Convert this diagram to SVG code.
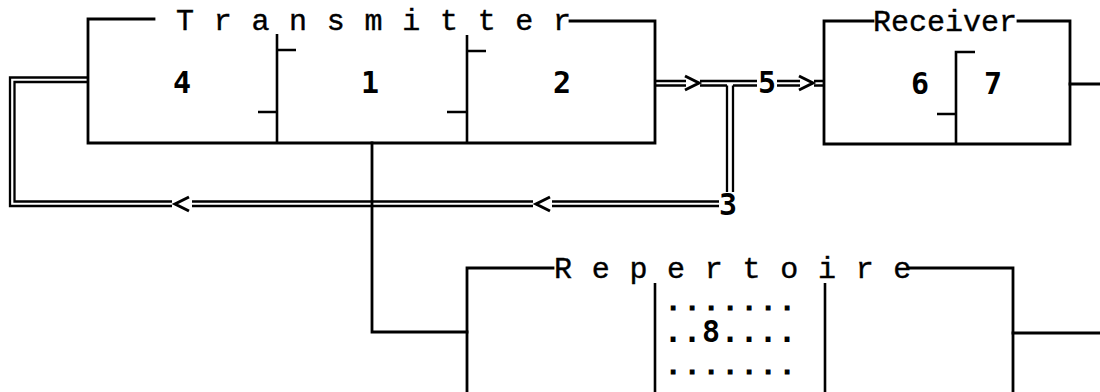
<svg xmlns="http://www.w3.org/2000/svg" width="1100" height="392" viewBox="0 0 1100 392">
<style>
.box{fill:none;stroke:#000;stroke-width:2.8;stroke-linecap:square}
.div{fill:none;stroke:#000;stroke-width:2.6}
.dbl{fill:none;stroke:#000;stroke-width:2.3}
.head{fill:none;stroke:#000;stroke-width:3;stroke-linejoin:miter}
.title{font-family:"Liberation Mono",monospace;font-size:30px;fill:#000;stroke:#000;stroke-width:0.4}
.num{font-family:"DejaVu Sans Mono",monospace;font-weight:bold;font-size:30px;fill:#000;text-anchor:middle}
.dots{font-family:"DejaVu Sans Mono",monospace;font-weight:bold;font-size:30px;fill:#000;letter-spacing:0.94px}
.sdots{font-family:"DejaVu Sans Mono",monospace;font-weight:bold;font-size:22px;fill:#000;stroke:#000;stroke-width:1.2;letter-spacing:5.76px}
</style>
<rect width="1100" height="392" fill="#fff"/>
<g id="transmitter">
<path class="box" d="M154,19 H88 V143 H655 V21 H570"/>
<text class="title" x="176" y="30" letter-spacing="0.85">T r a n s m i t t e r</text>
<path class="div" d="M277,34 V143 M277,50 H296 M258,112 H277"/>
<path class="div" d="M467,35 V143 M467,51 H486 M447,112 H467"/>
<text class="num" x="182" y="93">4</text>
<text class="num" x="370" y="93">1</text>
<text class="num" x="562" y="93">2</text>
</g>
<g id="receiver">
<path class="box" d="M873,21 H824 V144 H1070 V21 H1018"/>
<text class="title" x="873" y="31">Receiver</text>
<path class="div" d="M975,52 H956 V144 M937,114 H956"/>
<text class="num" x="920" y="94">6</text>
<text class="num" x="993" y="94">7</text>
</g>
<g id="repertoire">
<path class="box" d="M553,268 H467 V392 M908,268 H1013 V392"/>
<text class="title" x="554" y="278" letter-spacing="0.85">R e p e r t o i r e</text>
<path class="div" d="M655,283 V392 M825,283 V392"/>
<text class="sdots" x="666.4" y="310">.......</text>
<text class="dots" x="664" y="342">..<tspan>8</tspan>....</text>
<text class="sdots" x="666.4" y="374">.......</text>
</g>
<g id="labels">
<text class="num" x="767" y="93">5</text>
<text class="num" x="728" y="215">3</text>
</g>
<g id="connectors">
<path class="dbl" d="M655,81 H686 M655,85.5 H686"/>
<path class="head" d="M685,76 L699,83 L685,90"/>
<path class="dbl" d="M700,81 H757 M700,85.5 H727 M733,85.5 H757"/>
<path class="dbl" d="M727,85.5 V192 M733,85.5 V192"/>
<path class="dbl" d="M777,81 H800 M777,85.5 H800"/>
<path class="head" d="M799,76 L813,83 L799,90"/>
<path class="dbl" d="M814,81 H824 M814,85.5 H824"/>
<path class="dbl" d="M719,201.5 H552 M719,206 H552"/>
<path class="head" d="M550,197 L536,204 L550,211"/>
<path class="dbl" d="M533,201.5 H192 M533,206 H192"/>
<path class="head" d="M189,197 L175,204 L189,211"/>
<path class="dbl" d="M172,201.5 H14.5 V82 H88 M172,206 H10 V77.5 H88"/>
<path class="box" d="M372,143 V332 H467"/>
<path class="box" d="M1070,84 H1100"/>
<path class="box" d="M1013,333 H1100"/>
</g>
</svg>
